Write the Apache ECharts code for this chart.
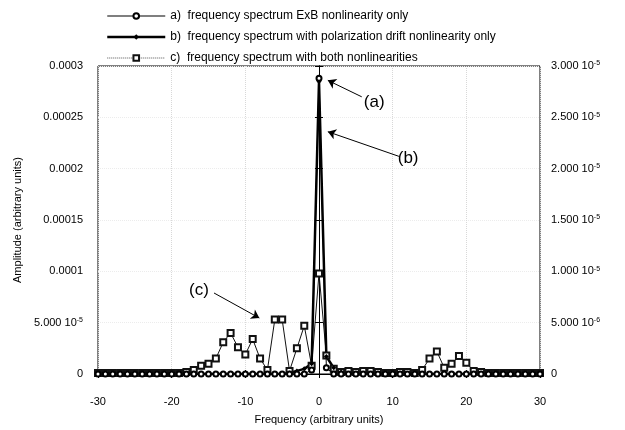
<!DOCTYPE html>
<html>
<head>
<meta charset="utf-8">
<script src="https://cdn.jsdelivr.net/npm/echarts@6/dist/echarts.min.js"></script>
<style>
  html, body { margin: 0; padding: 0; background: #fff; }
  #chart { width: 625px; height: 430px; }
</style>
</head>
<body>
<div id="chart"></div>
<script>
// ---------------- data ----------------

// frequency (arbitrary units)
const freq = [
  -30, -29, -28, -27, -26, -25, -24, -23, -22, -21,
  -20, -19, -18, -17, -16, -15, -14, -13, -12, -11,
  -10, -9, -8, -7, -6, -5, -4, -3, -2, -1,
  0, 1, 2, 3, 4, 5, 6, 7, 8, 9,
  10, 11, 12, 13, 14, 15, 16, 17, 18, 19,
  20, 21, 22, 23, 24, 25, 26, 27, 28, 29, 30
];

// a) ExB only - left axis (absolute amplitude)
const specA = [
  0, 0, 0, 0, 0, 0, 0, 0, 0, 0,
  0, 0, 0, 0, 0, 0, 0, 0, 0, 0,
  0, 0, 0, 0, 0, 0, 0, 0, 0, 0.000004,
  0.000288, 0.000006, 0, 0, 0, 0, 0, 0, 0, 0,
  0, 0, 0, 0, 0, 0, 0, 0, 0, 0,
  0, 0, 0, 0, 0, 0, 0, 0, 0, 0, 0
];

// b) polarization drift only - right axis, in units of 10^-5
const specB = [
  0, 0, 0, 0, 0, 0, 0, 0, 0, 0,
  0, 0, 0, 0, 0, 0, 0, 0, 0, 0,
  0, 0, 0, 0, 0, 0, 0.01, 0.03, 0.05, 0.1,
  2.85, 0.17, 0.06, 0.02, 0, 0, 0, 0, 0, 0,
  0, 0, 0, 0, 0, 0, 0, 0, 0, 0,
  0, 0, 0, 0, 0, 0, 0, 0, 0, 0, 0
];

// c) both nonlinearities - right axis, in units of 10^-5
const specC = [
  0.01, 0.01, 0.01, 0.01, 0.01, 0.01, 0.01, 0.01, 0.01, 0.01,
  0.01, 0.01, 0.02, 0.04, 0.08, 0.10, 0.15, 0.31, 0.40, 0.26,
  0.19, 0.34, 0.15, 0.04, 0.53, 0.53, 0.03, 0.25, 0.47, 0.08,
  0.98, 0.18, 0.05, 0.02, 0.03, 0.02, 0.03, 0.03, 0.02, 0.01,
  0.01, 0.02, 0.02, 0.01, 0.04, 0.15, 0.22, 0.06, 0.10, 0.175,
  0.11, 0.03, 0.02, 0.01, 0.01, 0.01, 0.01, 0.01, 0.01, 0.01, 0.01
];

const seriesNames = [
  "a)  frequency spectrum ExB nonlinearity only",
  "b)  frequency spectrum with polarization drift nonlinearity only",
  "c)  frequency spectrum with both nonlinearities"
];

const xTicks = [-30, 30, 10]; // min, max, step
const leftTicks = [0, 0.0003, 0.00005];
const rightTicks = [0, 3, 0.5]; // x 10^-5

// ---------------- chart ----------------

const font = "Liberation Sans, Arial, sans-serif";
const pairs = (ys) => freq.map((f, i) => [f, ys[i]]);

let chartDom = document.getElementById("chart");
let myChart = echarts.init(chartDom);

const sup = { sup: { fontSize: 7, verticalAlign: "top", padding: [0, 0, 5, 0], fontFamily: font, color: "#000" } };

function leftLabel(v) {
  if (v === 0) return "0";
  if (v < 0.0001 - 1e-12) return "5.000 10{sup|-5}";
  return String(Number(v.toPrecision(6)));
}
function rightLabel(v) {
  if (v === 0) return "0";
  if (v < 1 - 1e-9) return (v * 10).toFixed(3) + " 10{sup|-6}";
  return v.toFixed(3) + " 10{sup|-5}";
}

let option = {
  animation: false,
  backgroundColor: "#fff",
  textStyle: { fontFamily: font },
  legend: {
    orient: "vertical",
    left: 101,
    top: 5,
    itemGap: 9,
    itemWidth: 58,
    itemHeight: 7,
    textStyle: { fontSize: 12, color: "#000", fontFamily: font },
    data: [
      { name: seriesNames[0], lineStyle: { width: 1.2, color: "#000" } },
      { name: seriesNames[1], lineStyle: { width: 2.5, color: "#000" } },
      { name: seriesNames[2], lineStyle: { type: "dotted", color: "#555", width: 1 } },
    ],
  },
  grid: {
    left: 98,
    right: 85,
    top: 66,
    bottom: 56,
    show: true,
    borderColor: "#000",
    borderWidth: 1,
  },
  xAxis: [
    {
      type: "value",
      min: xTicks[0],
      max: xTicks[1],
      interval: xTicks[2],
      name: "Frequency (arbitrary units)",
      nameLocation: "middle",
      nameGap: 40,
      nameTextStyle: { fontSize: 11, color: "#000" },
      axisLine: { onZero: false, lineStyle: { color: "#000" } },
      axisTick: { inside: true, length: 4, lineStyle: { color: "#000" } },
      axisLabel: { margin: 22, fontSize: 11, color: "#000" },
      splitLine: { show: true, lineStyle: { type: "dotted", color: "#d8d8d8" } },
    },
    {
      type: "value",
      position: "top",
      min: xTicks[0],
      max: xTicks[1],
      interval: xTicks[2],
      axisLine: { lineStyle: { color: "#000" } },
      axisTick: { inside: true, length: 4, lineStyle: { color: "#000" } },
      axisLabel: { show: false },
      splitLine: { show: false },
    },
  ],
  yAxis: [
    {
      type: "value",
      min: leftTicks[0],
      max: leftTicks[1],
      interval: leftTicks[2],
      name: "Amplitude (arbitrary units)",
      nameLocation: "middle",
      nameGap: 66,
      nameTextStyle: { fontSize: 11, color: "#000" },
      axisLine: { show: true, lineStyle: { color: "#000" } },
      axisTick: { show: true, inside: true, length: 4, lineStyle: { color: "#000" } },
      axisLabel: { margin: 15, fontSize: 11, color: "#000", formatter: leftLabel, rich: sup },
      splitLine: { show: true, lineStyle: { type: "dotted", color: "#ececec" } },
    },
    {
      type: "value",
      position: "right",
      min: rightTicks[0],
      max: rightTicks[1],
      interval: rightTicks[2],
      axisLine: { show: true, lineStyle: { color: "#000" } },
      axisTick: { show: true, inside: true, length: 4, lineStyle: { color: "#000" } },
      axisLabel: { margin: 11, fontSize: 11, color: "#000", formatter: rightLabel, rich: sup },
      splitLine: { show: false },
    },
  ],
  series: [
    {
      name: seriesNames[2],
      type: "line",
      yAxisIndex: 1,
      symbol: "emptyRect",
      symbolSize: 6,
      lineStyle: { color: "#111", width: 1 },
      itemStyle: { color: "#111", borderWidth: 1 },
      data: pairs(specC),
    },
    {
      name: seriesNames[1],
      type: "line",
      yAxisIndex: 1,
      symbol: "diamond",
      symbolSize: 5,
      lineStyle: { color: "#000", width: 2.5 },
      itemStyle: { color: "#000" },
      data: pairs(specB),
    },
    {
      name: seriesNames[0],
      type: "line",
      yAxisIndex: 0,
      symbol: "emptyCircle",
      symbolSize: 5,
      lineStyle: { color: "#000", width: 1 },
      itemStyle: { color: "#000", borderWidth: 1 },
      data: pairs(specA),
      // annotation arrows (a), (b), (c)
      markLine: {
        silent: true,
        symbol: ["none", "arrow"],
        symbolSize: 8,
        label: { show: false },
        lineStyle: { color: "#000", width: 1, type: "solid" },
        data: [
          [{ coord: [5.8, 0.00027] }, { coord: [1.2, 0.000286] }],
          [{ coord: [10.85, 0.000212] }, { coord: [1.2, 0.000236] }],
          [{ coord: [-14.25, 0.0000789] }, { coord: [-8.1, 0.0000545] }],
        ],
      },
      markPoint: {
        silent: true,
        symbol: "circle",
        symbolSize: 1,
        itemStyle: { color: "rgba(0,0,0,0)" },
        label: { show: true, position: "inside", fontSize: 17, color: "#000", fontFamily: font },
        data: [
          { coord: [7.5, 0.000265], label: { formatter: "(a)" } },
          { coord: [12.1, 0.00021], label: { formatter: "(b)" } },
          { coord: [-16.3, 0.0000818], label: { formatter: "(c)" } },
        ],
      },
    },
  ],
};

myChart.setOption(option);
</script>
</body>
</html>
